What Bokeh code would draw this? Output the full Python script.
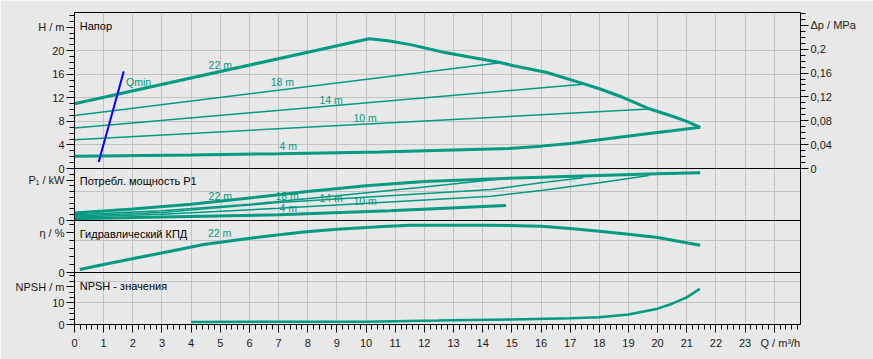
from bokeh.plotting import figure
from bokeh.models import Range1d, LinearAxis, FixedTicker, Label, Grid, Span
from bokeh.embed import file_html
from bokeh.resources import INLINE

# ---------------- data ----------------
Q_MAX = 24.9
H_MAX = 26.5
DP_MAX = 0.2615
P_MAX = 0.45
ETA_MAX = 65
NPSH_MAX = 24

q_major = list(range(0, 25))
q_minor = [round(i * 0.2, 1) for i in range(0, 125)]

h_ticks = [0, 4, 8, 12, 16, 20, 24]
h_labels = ["0", "4", "8", "12", "16", "20", "H / m"]
h_minor = list(range(0, 27))
h_grid = [4, 8, 12, 16, 20]
dp_ticks = [0, 0.04, 0.08, 0.12, 0.16, 0.2, 0.24]
dp_labels = ["0", "0,04", "0,08", "0,12", "0,16", "0,2", "Δp / MPa"]
dp_minor = [i / 100 for i in range(0, 27)]
p_ticks = [0, 0.35]
p_labels = ["0", "P₁ / kW"]
p_minor = [i * 0.05 for i in range(0, 10)]
p_grid = [0.25]
eta_ticks = [0, 50]
eta_labels = ["0", "η / %"]
eta_minor = list(range(0, 70, 10))
eta_grid = [40]
npsh_ticks = [0, 10, 17.5]
npsh_labels = ["0", "10", "NPSH / m"]
npsh_minor = [i * 2.5 for i in range(0, 10)]
npsh_grid = [10, 20]

# head curves (Q m3/h, H m)
h22_q = [0, 10.1, 10.76, 11.56, 12.7, 14.6, 15.06, 16.2, 17.2, 18.03, 18.8, 19.74, 20.43, 21.0, 21.46]
h22_h = [11.0, 22.05, 21.7, 21.0, 19.7, 18.0, 17.45, 16.3, 14.8, 13.5, 12.1, 10.1, 9.0, 8.0, 7.0]
h18_q = [0, 14.6]
h18_h = [9.0, 17.95]
h14_q = [0, 17.45]
h14_h = [6.9, 14.3]
h10_q = [0, 19.7]
h10_h = [4.9, 10.1]
h4_q = [0, 4, 7, 10.5, 12.7, 14.9, 16, 17, 18, 19.3, 20.5, 21.46]
h4_h = [2.1, 2.3, 2.5, 2.8, 3.1, 3.4, 3.8, 4.25, 4.9, 5.7, 6.4, 7.0]
qmin_q = [0.83, 1.69]
qmin_h = [1.1, 16.5]

# power P1 (kW)
p22_q = [0, 2, 4, 6, 8, 10, 12, 14, 16, 18, 20, 21.46]
p22 = [0.064, 0.1, 0.14, 0.195, 0.25, 0.3, 0.338, 0.358, 0.375, 0.39, 0.405, 0.413]
p18_q = [0, 3, 6, 9, 12, 14.6]
p18 = [0.05, 0.085, 0.14, 0.215, 0.29, 0.36]
p14_q = [0, 3, 7, 10.8, 14.3, 16, 17.45]
p14 = [0.04, 0.07, 0.155, 0.215, 0.268, 0.326, 0.37]
p10_q = [0, 3, 7, 10.8, 14.3, 16, 18, 19.7]
p10 = [0.03, 0.055, 0.105, 0.16, 0.21, 0.26, 0.326, 0.39]
p4_q = [0, 3, 7, 10.8, 14.8]
p4 = [0.015, 0.03, 0.05, 0.085, 0.13]

# hydraulic efficiency (%)
eta_q = [0.18, 1.0, 2.15, 3.29, 4.43, 5.57, 6.72, 7.86, 9.0, 10.6, 11.5, 14.2, 16.0, 17.0, 18.0, 19.0, 20.0, 20.8, 21.46]
eta = [3.75, 10, 18.4, 26.5, 35, 40.5, 46, 50.5, 54, 57.5, 59.1, 59.1, 57.9, 55, 51.6, 47.9, 43.75, 38.4, 34.1]

# NPSH (m)
npsh_q = [4.0, 10.0, 12.5, 13.0, 15.0, 17.0, 18.0, 19.0, 20.0, 20.5, 21.0, 21.45]
npsh = [1.2, 1.3, 1.8, 2.0, 2.3, 2.9, 3.4, 4.6, 7.3, 9.6, 12.5, 16.5]

# ---------------- style / layout ----------------
TEAL = "#009a82"
GRID = "#c2c2c2"
BG = "#e8e8e8"
FONT = "Liberation Sans"
TXT = "#1a1a1a"

FRAME_H = 312  # plot frame height in px, split into stacked panels
# panel name -> (value min, value max, bottom px, top px) inside the frame
PANELS = {
    "h": (0, H_MAX, 156, 312),
    "dp": (0, DP_MAX, 156, 312),
    "p": (0, P_MAX, 104, 156),
    "eta": (0, ETA_MAX, 52, 104),
    "npsh": (0, NPSH_MAX, 0, 52),
}


def panel_range(name):
    vmin, vmax, a, b = PANELS[name]
    k = (vmax - vmin) / (b - a)
    return Range1d(vmin - a * k, vmax + (FRAME_H - b) * k)


def frame_pos(name, v):
    vmin, vmax, a, b = PANELS[name]
    return a + (v - vmin) * (b - a) / (vmax - vmin)


def style_axis(ax, standoff=2):
    ax.axis_line_color = "black"
    ax.major_tick_line_color = "black"
    ax.minor_tick_line_color = "black"
    ax.major_tick_out = 8
    ax.major_tick_in = 0
    ax.minor_tick_out = 5
    ax.minor_tick_in = 0
    ax.major_label_text_font = FONT
    ax.major_label_text_font_size = "11px"
    ax.major_label_text_color = TXT
    ax.major_label_standoff = standoff


p = figure(width=873, height=359, x_range=Range1d(0, Q_MAX), y_range=Range1d(0, FRAME_H),
           output_backend="svg", toolbar_location=None,
           min_border_left=74, min_border_right=73, min_border_top=12, min_border_bottom=35)
p.background_fill_color = BG
p.border_fill_color = BG
p.outline_line_color = "black"
p.extra_y_ranges = {name: panel_range(name) for name in PANELS}

# x axis & vertical grid
xa = p.xaxis[0]
xa.ticker = FixedTicker(ticks=q_major, minor_ticks=q_minor)
xa.major_label_overrides = {24: "\u00a0\u00a0\u00a0\u00a0Q / m³/h"}
style_axis(xa, standoff=4)
p.xgrid.ticker = FixedTicker(ticks=q_major)
p.xgrid.grid_line_color = GRID
p.ygrid.grid_line_color = None

# combined left axis (all four panels on one axis line)
ticks, minor, overrides = [], [], {}
for name, tv, tl, mv in [("h", h_ticks, h_labels, h_minor),
                         ("p", p_ticks, p_labels, p_minor),
                         ("eta", eta_ticks, eta_labels, eta_minor),
                         ("npsh", npsh_ticks, npsh_labels, npsh_minor)]:
    for v, lab in zip(tv, tl):
        pos = frame_pos(name, v)
        ticks.append(pos)
        overrides[pos] = lab
    minor += [frame_pos(name, v) for v in mv]
ya = p.yaxis[0]
ya.ticker = FixedTicker(ticks=ticks, minor_ticks=minor)
ya.major_label_overrides = overrides
style_axis(ya)

# right axis (pressure)
ax_r = LinearAxis(y_range_name="dp", ticker=FixedTicker(ticks=dp_ticks, minor_ticks=dp_minor))
ax_r.major_label_overrides = dict(zip(dp_ticks, dp_labels))
style_axis(ax_r)
p.add_layout(ax_r, "right")

# horizontal grids per panel
for name, vals in [("h", h_grid), ("p", p_grid), ("eta", eta_grid), ("npsh", npsh_grid)]:
    p.add_layout(Grid(dimension=1, ticker=FixedTicker(ticks=vals), y_range_name=name,
                      grid_line_color=GRID))

# panel separators
for name in ["h", "p", "eta"]:
    p.add_layout(Span(location=0, dimension="width", y_range_name=name,
                      line_color="black", line_width=1))


def title(y, name, text):
    p.add_layout(Label(x=0.18, y=y, y_range_name=name, text=text, text_font=FONT,
                       text_font_size="11px", text_color="black",
                       text_baseline="middle", text_align="left"))


def curve_label(x, y, name, text):
    p.add_layout(Label(x=x, y=y, y_range_name=name, text=text, text_font=FONT,
                       text_font_size="10.5px", text_color=TEAL,
                       text_baseline="middle", text_align="center"))


# ---- head panel ----
p.line(h22_q, h22_h, color=TEAL, line_width=3, y_range_name="h")
p.line(h18_q, h18_h, color=TEAL, line_width=1.5, y_range_name="h")
p.line(h14_q, h14_h, color=TEAL, line_width=1.5, y_range_name="h")
p.line(h10_q, h10_h, color=TEAL, line_width=1.5, y_range_name="h")
p.line(h4_q, h4_h, color=TEAL, line_width=3, y_range_name="h")
p.line(qmin_q, qmin_h, color="#0000ff", line_width=2, y_range_name="h")
title(24.2, "h", "Напор")
curve_label(5.0, 17.6, "h", "22 m")
curve_label(7.13, 14.75, "h", "18 m")
curve_label(8.8, 11.65, "h", "14 m")
curve_label(9.97, 8.6, "h", "10 m")
curve_label(7.33, 3.8, "h", "4 m")
curve_label(2.2, 14.75, "h", "Qmin")

# ---- power panel ----
p.line(p22_q, p22, color=TEAL, line_width=3, y_range_name="p")
p.line(p18_q, p18, color=TEAL, line_width=1.5, y_range_name="p")
p.line(p14_q, p14, color=TEAL, line_width=1.5, y_range_name="p")
p.line(p10_q, p10, color=TEAL, line_width=1.5, y_range_name="p")
p.line(p4_q, p4, color=TEAL, line_width=3, y_range_name="p")
title(0.34, "p", "Потребл. мощность P1")
curve_label(5.0, 0.212, "p", "22 m")
curve_label(7.29, 0.212, "p", "18 m")
curve_label(8.8, 0.195, "p", "14 m")
curve_label(9.97, 0.172, "p", "10 m")
curve_label(7.33, 0.108, "p", "4 m")

# ---- efficiency panel ----
p.line(eta_q, eta, color=TEAL, line_width=3, y_range_name="eta")
title(48.75, "eta", "Гидравлический КПД")
curve_label(4.98, 50, "eta", "22 m")

# ---- NPSH panel ----
p.line(npsh_q, npsh, color=TEAL, line_width=2.5, y_range_name="npsh")
title(17.6, "npsh", "NPSH - значения")

html = file_html(p, INLINE)
html = html.replace("<body>", '<body style="background-color:#e8e8e8;">', 1)
open("out.html", "w").write(html)
